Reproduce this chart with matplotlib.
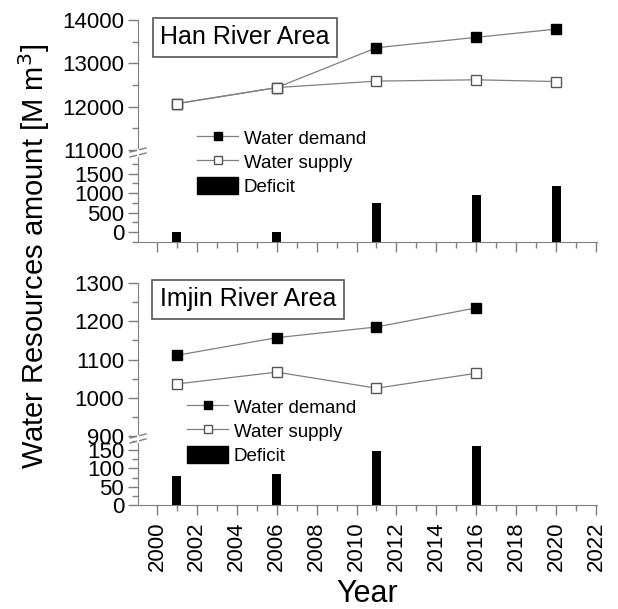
import matplotlib
matplotlib.use("Agg")
import matplotlib.pyplot as plt
from matplotlib.lines import Line2D
from matplotlib.patches import Patch
from matplotlib.ticker import MultipleLocator

plt.rcParams['font.family'] = ['Liberation Sans', 'DejaVu Sans']

# ---- data ----
han_years = [2001, 2006, 2011, 2016, 2020]
han_demand = [12070, 12440, 13360, 13600, 13790]
han_supply = [12070, 12440, 12590, 12620, 12580]
han_deficit = [0, 0, 760, 950, 1190]

imjin_years = [2001, 2006, 2011, 2016]
imjin_demand = [1111, 1157, 1185, 1235]
imjin_supply = [1036, 1067, 1025, 1064]
imjin_deficit = [78, 86, 148, 160]

labels = ["Water demand", "Water supply", "Deficit"]
panel_titles = ["Han River Area", "Imjin River Area"]
xticks = list(range(2000, 2023, 2))

GRAY = "#7f7f7f"
W, H = 618, 609
fig = plt.figure(figsize=(W / 100, H / 100), dpi=100)


def rect(x0, y0, x1, y1):
    return [x0 / W, 1 - y1 / H, (x1 - x0) / W, (y1 - y0) / H]


def style(ax, bottom=True):
    for s in ["top", "right"]:
        ax.spines[s].set_visible(False)
    ax.spines["left"].set_color(GRAY)
    ax.spines["bottom"].set_color(GRAY)
    ax.spines["bottom"].set_visible(bottom)
    ax.set_xlim(1999.05, 2022.05)
    ax.xaxis.set_major_locator(MultipleLocator(2))
    ax.xaxis.set_minor_locator(MultipleLocator(1))
    ax.tick_params(axis="both", which="both", direction="out", color=GRAY,
                   labelsize=16)
    ax.tick_params(which="major", length=7, width=1)
    ax.tick_params(which="minor", length=4, width=1)
    ax.tick_params(axis="y", which="major", pad=3)
    ax.tick_params(axis="x", which="major", pad=5)
    if not bottom:
        ax.tick_params(axis="x", which="both", bottom=False, labelbottom=False)
    ax.patch.set_alpha(0)


def panel(up_rect, lo_rect, years, demand, supply, deficit, up_lim, up_major,
          lo_lim, lo_major, title, box_center, leg_xy, show_xlabels):
    axu = fig.add_axes(rect(*up_rect))
    axl = fig.add_axes(rect(*lo_rect))
    style(axu, bottom=False)
    style(axl, bottom=True)
    axu.set_ylim(*up_lim)
    axu.yaxis.set_major_locator(MultipleLocator(up_major))
    axu.yaxis.set_minor_locator(MultipleLocator(up_major / 2))
    axl.set_ylim(*lo_lim)
    axl.yaxis.set_major_locator(MultipleLocator(lo_major))
    axl.yaxis.set_minor_locator(MultipleLocator(lo_major / 2))
    axu.plot(years, demand, color=GRAY, lw=0.9, marker="s", ms=7,
             mfc="black", mec="black", zorder=3)
    axu.plot(years, supply, color=GRAY, lw=0.9, marker="s", ms=7,
             mfc="white", mec="#555555", mew=1, zorder=3)
    base = lo_lim[0]
    axl.bar(years, [d - base for d in deficit], bottom=base, width=0.45,
            color="black")
    if show_xlabels:
        axl.set_xticks(xticks)
        axl.set_xticklabels([str(t) for t in xticks], rotation=90)
    else:
        axl.tick_params(axis="x", labelbottom=False)
    # title box
    fig.text(box_center[0] / W, 1 - box_center[1] / H, title,
             ha="center", va="center", fontsize=18,
             bbox=dict(boxstyle="square,pad=0.3", fc="white", ec="#555555",
                       lw=1.2))
    # legend
    handles = [
        Line2D([], [], color=GRAY, lw=0.9, marker="s", ms=6, mfc="black",
               mec="black"),
        Line2D([], [], color=GRAY, lw=0.9, marker="s", ms=6, mfc="white",
               mec="#555555"),
        Patch(facecolor="black", edgecolor="black"),
    ]
    fig.legend(handles, labels, loc="upper left",
               bbox_to_anchor=(leg_xy[0] / W, 1 - leg_xy[1] / H),
               frameon=False, fontsize=13.5, handlelength=2.2,
               handleheight=1.0, labelspacing=0.28, handletextpad=0.3,
               borderpad=0, borderaxespad=0)
    # break marks
    yb = (up_rect[3] + lo_rect[1]) / 2
    for dy in (-2.5, 2.5):
        fig.add_artist(Line2D([(up_rect[0] - 8) / W, (up_rect[0] + 8) / W],
                              [1 - (yb + dy + 2) / H, 1 - (yb + dy - 2) / H],
                              color=GRAY, lw=1))
    fig.add_artist(Line2D([up_rect[0] / W, up_rect[0] / W],
                          [1 - (yb - 3) / H, 1 - (yb + 3) / H],
                          color="white", lw=1.5))
    return axu, axl


panel((138, 20, 597, 150), (138, 155, 597, 242), han_years, han_demand,
      han_supply, han_deficit, (11000, 14000), 1000, (-250, 1980), 500,
      panel_titles[0], (245, 37), (197, 129), False)
panel((138, 283, 597, 436), (138, 441, 597, 505), imjin_years, imjin_demand,
      imjin_supply, imjin_deficit, (900, 1300), 100, (0, 175), 50,
      panel_titles[1], (248, 299), (187, 398), True)

fig.text(34 / W, 1 - 256 / H, "Water Resources amount [M m$^3$]",
         rotation=90, ha="center", va="center", fontsize=21)
fig.text(367 / W, 1 - 594 / H, "Year", ha="center", va="center",
         fontsize=22)

fig.savefig("out.png", dpi=100)
